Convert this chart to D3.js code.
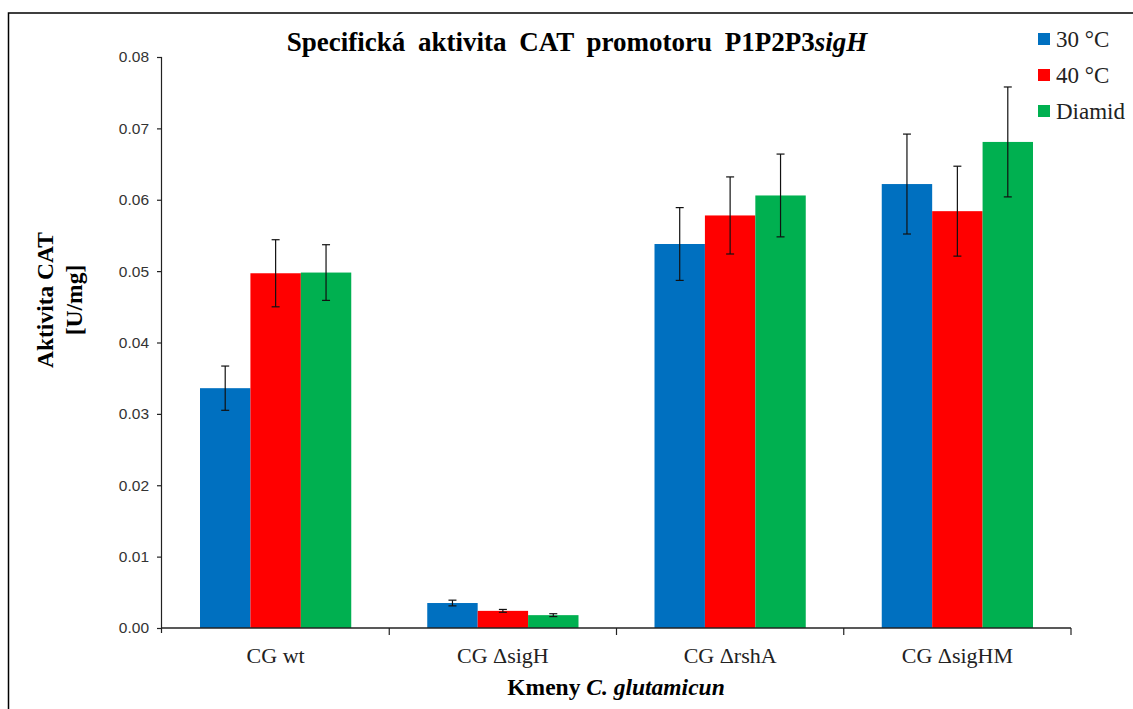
<!DOCTYPE html>
<html>
<head>
<meta charset="utf-8">
<script src="https://cdn.jsdelivr.net/npm/d3@7"></script>
<style>
  body { margin: 0; background: white; }
  svg { display: block; }
</style>
</head>
<body>
<svg id="canvas" width="1133" height="709"></svg>
<script>
var strains = ['CG wt', 'CG \u0394sigH', 'CG \u0394rshA', 'CG \u0394sigHM'];
var series = ['30 \u00B0C', '40 \u00B0C', 'Diamid'];
var colors = ['#0070C0', '#FF0000', '#00B050'];

// values per series, in strain order
var val30 = [0.0336, 0.0035, 0.0538, 0.0622];
var val40 = [0.0497, 0.0024, 0.0578, 0.0584];
var valDiamid = [0.0498, 0.0018, 0.0606, 0.0681];

// error (+/-) per series
var err30 = [0.0031, 0.0004, 0.0051, 0.0070];
var err40 = [0.0047, 0.0002, 0.0054, 0.0063];
var errDiamid = [0.0039, 0.0002, 0.0058, 0.0077];

var yTicks = [0, 0.01, 0.02, 0.03, 0.04, 0.05, 0.06, 0.07, 0.08];

var values = [val30, val40, valDiamid];
var errors = [err30, err40, errDiamid];

// ************************************************************************************************** //
// Layout

var plot = { left: 162, right: 1071, top: 57, bottom: 628 };
var serif = 'Liberation Serif, Times New Roman, serif';
var sans = 'Liberation Sans, Arial, sans-serif';

var svg = d3.select('#canvas');

// frame
svg.append('path')
  .attr('d', 'M1133,13 H8.5 V709')
  .style('fill', 'none').style('stroke', 'black').style('stroke-width', 1.5);

var xScale = d3.scaleBand().domain(strains).range([plot.left, plot.right]).paddingInner(0).paddingOuter(0);
var innerScale = d3.scaleBand().domain(series).range([38, xScale.bandwidth() - 38]);
var yScale = d3.scaleLinear().domain([0, 0.08]).range([plot.bottom, plot.top]);

// ************************************************************************************************** //
// Bars

var rows = [];
series.forEach(function(s, si){
  strains.forEach(function(c, ci){
    rows.push({ strain: c, series: s, si: si, v: values[si][ci], e: errors[si][ci] });
  });
});

svg.append('g').selectAll('rect').data(rows).enter().append('rect')
  .attr('x', function(d){ return xScale(d.strain) + innerScale(d.series); })
  .attr('y', function(d){ return yScale(d.v); })
  .attr('width', innerScale.bandwidth())
  .attr('height', function(d){ return yScale(0) - yScale(d.v); })
  .style('fill', function(d){ return colors[d.si]; });

// error bars
var eg = svg.append('g').style('stroke', '#111').style('stroke-width', 1.2);
rows.forEach(function(d){
  var cx = xScale(d.strain) + innerScale(d.series) + innerScale.bandwidth() / 2;
  var y1 = yScale(d.v + d.e), y2 = yScale(d.v - d.e);
  eg.append('line').attr('x1', cx).attr('x2', cx).attr('y1', y1).attr('y2', y2);
  eg.append('line').attr('x1', cx - 4).attr('x2', cx + 4).attr('y1', y1).attr('y2', y1);
  eg.append('line').attr('x1', cx - 4).attr('x2', cx + 4).attr('y1', y2).attr('y2', y2);
});

// ************************************************************************************************** //
// Axes

var yAxis = svg.append('g')
  .attr('transform', 'translate(' + plot.left + ',0)')
  .call(d3.axisLeft(yScale).tickValues(yTicks).tickFormat(d3.format('.2f')).tickSize(5).tickPadding(8));
yAxis.select('.domain').attr('d', 'M-0.5,' + plot.top + 'V' + (plot.bottom + 5));
yAxis.selectAll('text').style('font-family', sans).style('font-size', '15.5px').style('fill', '#333');
yAxis.selectAll('line, path').style('stroke', '#222').style('stroke-width', 1.2);

var xg = svg.append('g').attr('transform', 'translate(0,' + plot.bottom + ')');
xg.append('line').attr('x1', plot.left).attr('x2', plot.right).attr('y1', 0).attr('y2', 0)
  .style('stroke', '#222').style('stroke-width', 1.5);
var bounds = strains.map(function(c){ return xScale(c); }).concat([plot.right]);
xg.selectAll('.tk').data(bounds.slice(1)).enter().append('line')
  .attr('x1', function(d){ return d; }).attr('x2', function(d){ return d; })
  .attr('y1', 0).attr('y2', 7).style('stroke', '#222').style('stroke-width', 1.2);
xg.selectAll('text').data(strains).enter().append('text')
  .attr('x', function(d){ return xScale(d) + xScale.bandwidth() / 2; })
  .attr('y', 35).attr('text-anchor', 'middle')
  .style('font-family', serif).style('font-size', '22px').style('fill', '#222')
  .text(function(d){ return d; });

// ************************************************************************************************** //
// Titles

var title = svg.append('text').attr('x', 577).attr('y', 51).attr('text-anchor', 'middle')
  .style('font-family', serif).style('font-size', '27px').style('font-weight', 'bold')
  .style('word-spacing', '6px');
title.append('tspan').text('Specifick\u00E1 aktivita CAT promotoru P1P2P3');
title.append('tspan').style('font-style', 'italic').text('sigH');

var xTitle = svg.append('text').attr('x', 616).attr('y', 695).attr('text-anchor', 'middle')
  .style('font-family', serif).style('font-size', '23.5px').style('font-weight', 'bold');
xTitle.append('tspan').text('Kmeny ');
xTitle.append('tspan').style('font-style', 'italic').text('C. glutamicun');

var yTitle = svg.append('text').attr('transform', 'translate(53,300) rotate(-90)').attr('text-anchor', 'middle')
  .style('font-family', serif).style('font-size', '23.5px').style('font-weight', 'bold');
yTitle.append('tspan').attr('x', 0).attr('dy', 0).text('Aktivita CAT');
yTitle.append('tspan').attr('x', 0).attr('dy', 29).text('[U/mg]');

// ************************************************************************************************** //
// Legend

var lg = svg.append('g').attr('transform', 'translate(1038,39)');
series.forEach(function(s, i){
  var row = lg.append('g').attr('transform', 'translate(0,' + (i * 36) + ')');
  row.append('rect').attr('x', 0).attr('y', -6).attr('width', 12).attr('height', 12).style('fill', colors[i]);
  row.append('text').attr('x', 18).attr('y', 8)
    .style('font-family', serif).style('font-size', '23px').style('fill', '#222').text(s);
});
</script>
</body>
</html>
